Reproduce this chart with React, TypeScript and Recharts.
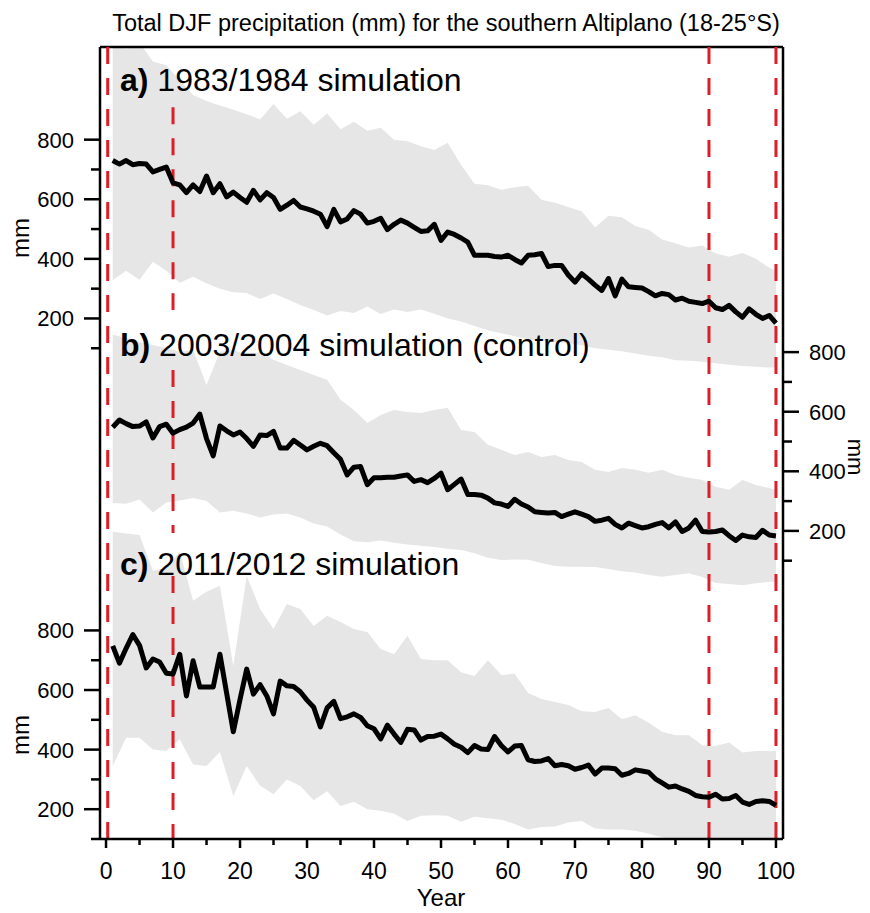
import {
  Area,
  ComposedChart,
  Line,
  ReferenceLine,
  XAxis,
  YAxis,
} from "recharts";

const FONT = "'Liberation Sans', Arial, sans-serif";
const GREY = "#e6e6e6";
const RED = "#dc1e26";

// yearly mean of each simulation (years 1..100)
const YEARS = Array.from({ length: 100 }, (_, i) => i + 1);

const MEAN_A = [
  730, 718, 730, 716, 720, 718, 692, 700, 708, 655,
  648, 622, 648, 626, 678, 622, 652, 608, 624, 606,
  590, 630, 598, 622, 606, 566, 580, 596, 574, 568,
  560, 550, 508, 566, 524, 534, 562, 550, 520, 526,
  536, 498, 516, 530, 520, 506, 492, 494, 516, 462,
  490, 482, 470, 456, 412, 412, 412, 408, 406, 412,
  398, 386, 412, 414, 418, 374, 378, 378, 346, 322,
  350, 332, 312, 294, 334, 276, 332, 306, 304, 302,
  290, 276, 284, 280, 262, 268, 258, 254, 250, 258,
  236, 230, 244, 222, 204, 232, 214, 200, 210, 184,
];

const MEAN_B = [
  548, 572, 560, 550, 552, 566, 512, 550, 558, 528,
  540, 548, 562, 592, 510, 452, 552, 536, 522, 532,
  510, 484, 522, 520, 534, 478, 478, 504, 488, 472,
  484, 494, 486, 462, 440, 388, 414, 416, 355, 378,
  378, 380, 380, 384, 388, 366, 372, 362, 376, 394,
  338, 356, 374, 322, 322, 320, 310, 294, 290, 282,
  306, 290, 280, 264, 262, 260, 262, 248, 256, 264,
  256, 248, 232, 236, 242, 222, 210, 226, 218, 210,
  214, 222, 228, 210, 230, 198, 210, 236, 198, 196,
  198, 203, 184, 168, 186, 180, 178, 202, 186, 183,
];

const MEAN_C = [
  748, 690, 740, 786, 750, 674, 704, 694, 656, 654,
  720, 580, 698, 610, 610, 610, 720, 590, 460, 568,
  670, 586, 618, 580, 520, 630, 614, 612, 594, 566,
  542, 476, 540, 562, 504, 510, 520, 508, 480, 470,
  436, 482, 452, 424, 468, 466, 432, 444, 445, 452,
  436, 418, 408, 390, 414, 402, 400, 444, 414, 392,
  412, 414, 366, 360, 362, 370, 346, 350, 346, 334,
  340, 348, 318, 338, 338, 336, 314, 320, 332, 328,
  324, 302, 288, 274, 278, 268, 260, 246, 242, 240,
  250, 234, 236, 246, 224, 216, 226, 228, 226, 213,
];

// ensemble spread, read every second year
const SPREAD_YEARS = [...Array.from({ length: 50 }, (_, i) => 2 * i + 1), 100];

const UPPER_A = [
  1128, 1105, 1125, 1062, 1050, 1000, 950, 930, 915, 900,
  885, 868, 920, 870, 895, 850, 888, 835, 860, 830,
  840, 800, 795, 778, 765, 790, 715, 652, 647, 632,
  640, 645, 598, 588, 574, 560, 505, 545, 540, 510,
  498, 465, 452, 438, 445, 418, 407, 420, 400, 370, 361,
];
const LOWER_A = [
  328, 360, 330, 390, 360, 320, 340, 318, 300, 288,
  285, 265, 284, 265, 245, 228, 210, 225, 218, 240,
  215, 230, 222, 230, 216, 200, 190, 175, 160, 150,
  140, 130, 125, 120, 118, 110, 100, 95, 90, 82,
  75, 70, 60, 58, 55, 50, 45, 40, 38, 35, 35,
];

const UPPER_B = [
  858, 847, 834, 824, 814, 801, 807, 690, 801, 807,
  791, 801, 774, 757, 740, 723, 707, 640, 606, 562,
  589, 606, 599, 596, 606, 613, 539, 532, 489, 472,
  455, 465, 448, 455, 438, 431, 405, 398, 411, 405,
  395, 405, 388, 378, 371, 348, 338, 371, 354, 344, 338,
];
const LOWER_B = [
  294, 291, 305, 262, 295, 302, 310, 300, 262, 268,
  258, 245, 255, 258, 245, 225, 215, 188, 165, 162,
  168, 160, 154, 150, 146, 140, 136, 125, 110, 102,
  104, 103, 92, 82, 80, 80, 79, 72, 65, 60,
  52, 46, 52, 58, 45, 25, 22, 18, 24, 29, 29,
];

const UPPER_C = [
  1131, 1125, 1120, 1000, 1010, 1064, 900, 930, 950, 681,
  983, 872, 805, 889, 872, 815, 849, 828, 805, 795,
  738, 720, 782, 704, 700, 700, 660, 647, 700, 650,
  655, 590, 570, 560, 550, 529, 526, 540, 502, 515,
  490, 460, 448, 448, 415, 412, 424, 390, 395, 395, 395,
];
const LOWER_C = [
  345, 440, 440, 400, 395, 435, 350, 345, 392, 244,
  345, 279, 250, 300, 278, 230, 260, 211, 225, 200,
  195, 185, 160, 178, 180, 178, 158, 175, 170, 165,
  150, 132, 140, 142, 155, 160, 135, 132, 132, 128,
  118, 106, 95, 86, 78, 70, 65, 59, 55, 50, 49,
];

// axes
const X_DOMAIN = [-0.9, 101.05];
const X_TICKS = Array.from({ length: 21 }, (_, i) => i * 5);
const MM_TICKS = [100, 200, 300, 400, 500, 600, 700, 800];
// the three panels share one frame, each with its own offset scale
const A_DOMAIN = [-1547, 1111];
const B_DOMAIN = [-834, 1824];
const C_DOMAIN = [100, 2758];

// red markers
const MARK_YEARS = [0.25, 90, 100];
const MARK_10 = [
  { axis: "a", from: 909, to: 228 },
  { axis: "b", from: 740, to: 193 },
  { axis: "c", from: 983, to: 100 },
];

const lineRows = (vals: number[]) => YEARS.map((year, i) => ({ year, v: vals[i] }));
const spreadRows = (lo: number[], hi: number[]) =>
  SPREAD_YEARS.map((year, i) => ({ year, range: [lo[i], hi[i]] }));

function yTick(side: "left" | "right") {
  return (props: any) => {
    const { x, y, payload } = props;
    const v = payload.value as number;
    const major = v % 200 === 0;
    const dir = side === "left" ? -1 : 1;
    return (
      <g>
        <line x1={x} x2={x + dir * (major ? 16 : 9)} y1={y} y2={y} stroke="#000" strokeWidth={2.5} />
        {major && (
          <text
            x={x + dir * 26}
            y={y + 8}
            textAnchor={side === "left" ? "end" : "start"}
            fontSize={22}
            fontFamily={FONT}
            fill="#000"
          >
            {v}
          </text>
        )}
      </g>
    );
  };
}

function xTick(props: any) {
  const { x, y, payload } = props;
  const v = payload.value as number;
  const major = v % 10 === 0;
  return (
    <g>
      <line x1={x} x2={x} y1={y} y2={y + (major ? 9 : 6)} stroke="#000" strokeWidth={2.5} />
      {major && (
        <text x={x} y={y + 40} textAnchor="middle" fontSize={23} fontFamily={FONT} fill="#000">
          {v}
        </text>
      )}
    </g>
  );
}

const axisLine = { stroke: "#000", strokeWidth: 2.5 };
const textStyle = { fontFamily: FONT, fill: "#000" };

export default function App() {
  const panels = [
    { id: "a", mean: MEAN_A, lo: LOWER_A, hi: UPPER_A },
    { id: "b", mean: MEAN_B, lo: LOWER_B, hi: UPPER_B },
    { id: "c", mean: MEAN_C, lo: LOWER_C, hi: UPPER_C },
  ];

  return (
    <div style={{ position: "absolute", left: 0, top: 0, width: 870, height: 913, background: "#fff" }}>
      <ComposedChart
        width={870}
        height={913}
        margin={{ top: 47, right: 7, bottom: 14, left: 10 }}
      >
        <XAxis
          type="number"
          dataKey="year"
          domain={X_DOMAIN}
          allowDataOverflow
          ticks={X_TICKS}
          interval={0}
          tick={xTick}
          tickLine={false}
          tickSize={0}
          tickMargin={0}
          height={60}
          axisLine={axisLine}
        />
        <YAxis
          yAxisId="a"
          domain={A_DOMAIN}
          allowDataOverflow
          ticks={MM_TICKS}
          interval={0}
          width={90}
          tick={yTick("left")}
          tickLine={false}
          tickSize={0}
          tickMargin={0}
          axisLine={axisLine}
        />
        <YAxis
          yAxisId="c"
          mirror
          domain={C_DOMAIN}
          allowDataOverflow
          ticks={MM_TICKS}
          interval={0}
          tick={yTick("left")}
          tickLine={false}
          tickSize={0}
          tickMargin={0}
          axisLine={false}
        />
        <YAxis
          yAxisId="b"
          orientation="right"
          domain={B_DOMAIN}
          allowDataOverflow
          ticks={MM_TICKS}
          interval={0}
          width={80}
          tick={yTick("right")}
          tickLine={false}
          tickSize={0}
          tickMargin={0}
          axisLine={axisLine}
        />

        {panels.map((p) => (
          <Area
            key={`spread-${p.id}`}
            yAxisId={p.id}
            data={spreadRows(p.lo, p.hi)}
            dataKey="range"
            type="linear"
            stroke="none"
            fill={GREY}
            fillOpacity={1}
            isAnimationActive={false}
          />
        ))}

        {/* top edge of the frame */}
        <ReferenceLine yAxisId="a" y={A_DOMAIN[1]} ifOverflow="visible" stroke="#000" strokeWidth={2.5} />

        {MARK_YEARS.map((yr) => (
          <ReferenceLine
            key={`mark-${yr}`}
            yAxisId="a"
            x={yr}
            stroke={RED}
            strokeWidth={3}
            strokeDasharray="17 14"
          />
        ))}
        {MARK_10.map((m) => (
          <ReferenceLine
            key={`mark10-${m.axis}`}
            yAxisId={m.axis}
            segment={[{ x: 10, y: m.from }, { x: 10, y: m.to }]}
            stroke={RED}
            strokeWidth={3}
            strokeDasharray="17 14"
          />
        ))}

        {panels.map((p) => (
          <Line
            key={`mean-${p.id}`}
            yAxisId={p.id}
            data={lineRows(p.mean)}
            dataKey="v"
            type="linear"
            stroke="#000"
            strokeWidth={5}
            strokeLinejoin="round"
            dot={false}
            activeDot={false}
            isAnimationActive={false}
          />
        ))}
      </ComposedChart>

      {/* titles and axis names, drawn over the plot */}
      <svg
        width={870}
        height={913}
        style={{ position: "absolute", left: 0, top: 0, pointerEvents: "none" }}
      >
        <text x={446} y={31} textAnchor="middle" fontSize={23.5} {...textStyle}>
          Total DJF precipitation (mm) for the southern Altiplano (18-25°S)
        </text>
        <text x={120} y={91} fontSize={32} {...textStyle}>
          <tspan fontWeight="bold">a)</tspan> 1983/1984 simulation
        </text>
        <text x={120} y={356} fontSize={32} {...textStyle}>
          <tspan fontWeight="bold">b)</tspan> 2003/2004 simulation (control)
        </text>
        <text x={120} y={575} fontSize={32} {...textStyle}>
          <tspan fontWeight="bold">c)</tspan> 2011/2012 simulation
        </text>
        <text x={441} y={906} textAnchor="middle" fontSize={24} {...textStyle}>
          Year
        </text>
        <text transform="translate(29,238) rotate(-90)" textAnchor="middle" fontSize={24} {...textStyle}>
          mm
        </text>
        <text transform="translate(29,735) rotate(-90)" textAnchor="middle" fontSize={24} {...textStyle}>
          mm
        </text>
        <text transform="translate(848,457) rotate(90)" textAnchor="middle" fontSize={22} {...textStyle}>
          mm
        </text>
      </svg>
    </div>
  );
}
